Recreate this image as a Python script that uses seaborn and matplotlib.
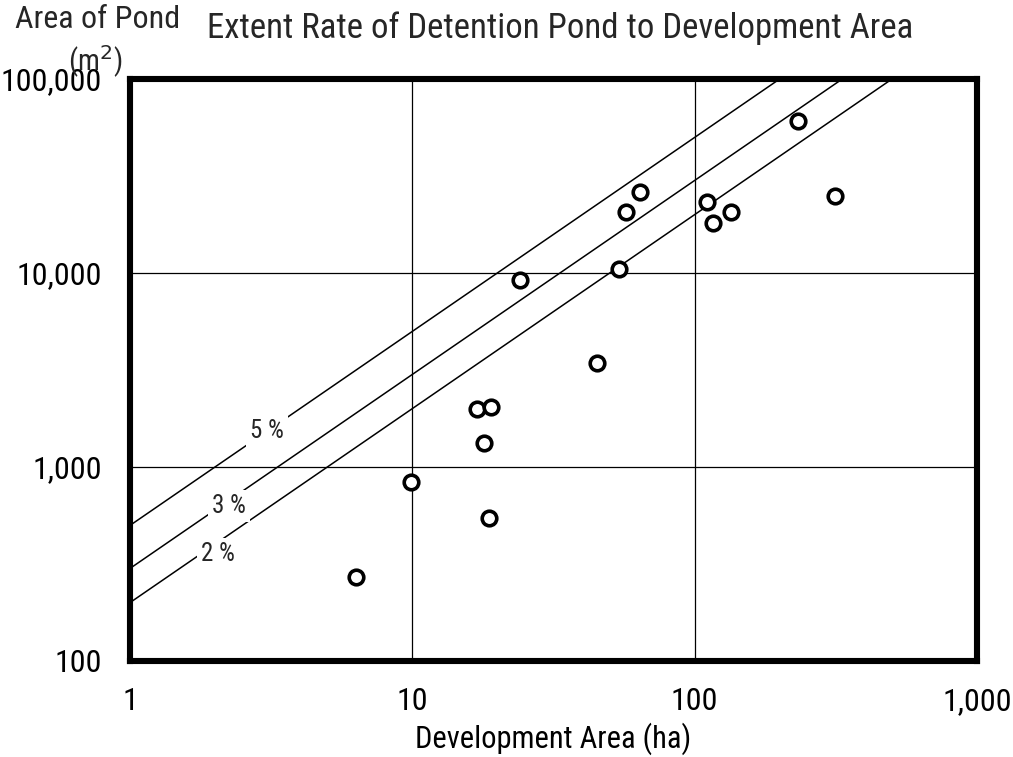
import matplotlib
matplotlib.use("Agg")
import matplotlib.pyplot as plt
import seaborn as sns
import pandas as pd
import numpy as np

# ---- data ----
dev_area_ha = [6.3, 9.9, 18.7, 17.9, 17.0, 19.0, 45.1, 24.0, 54.0, 57.0, 64.1,
               110.5, 115.8, 134.8, 233, 314]
pond_area_m2 = [271, 840, 543, 1335, 1997, 2034, 3442, 9150, 10520, 20660, 26180,
                23350, 18070, 20590, 60700, 25060]
rates_pct = [5, 3, 2]
rate_labels = ["5 %", "3 %", "2 %"]
label_x = [3.05, 2.24, 2.05]
label_y = [1525, 628, 356]
line_x = [1, 1000]
x_ticks = [1, 10, 100, 1000]
x_ticklabels = ["1", "10", "100", "1,000"]
y_ticks = [100, 1000, 10000, 100000]
y_ticklabels = ["100", "1,000", "10,000", "100,000"]

FONT = ["Liberation Sans Narrow", "Roboto Condensed", "DejaVu Sans Condensed", "Liberation Sans", "DejaVu Sans"]

sns.set_theme(style="white")
plt.rcParams["font.family"] = FONT

W, H = 1013, 757
fig = plt.figure(figsize=(W / 100, H / 100), dpi=100)
L, R, T, B = 130, 977, 79, 661
ax = fig.add_axes([L / W, 1 - B / H, (R - L) / W, (B - T) / H])

df = pd.DataFrame({"area": dev_area_ha, "pond": pond_area_m2})

rows = []
for r in rates_pct:
    for xv in line_x:
        rows.append({"x": xv, "y": r / 100 * 10000 * xv, "rate": r})
lines_df = pd.DataFrame(rows)
sns.lineplot(data=lines_df, x="x", y="y", units="rate", estimator=None,
             color="black", linewidth=1.1, ax=ax, zorder=2)

sns.scatterplot(data=df, x="area", y="pond", ax=ax, marker="o", s=110,
                facecolor="white", edgecolor="black", linewidth=2.6, zorder=5)

ax.set_xscale("log")
ax.set_yscale("log")
ax.set_xlim(1, 1000)
ax.set_ylim(100, 100000)

for lx, ly, lt in zip(label_x, label_y, rate_labels):
    ax.text(lx, ly, lt, ha="center", va="center", fontsize=18, zorder=4,
            family=FONT,
            bbox=dict(facecolor="white", edgecolor="none", pad=3))

for v in [10, 100]:
    ax.axvline(v, color="black", linewidth=0.9, zorder=1)
for v in [1000, 10000]:
    ax.axhline(v, color="black", linewidth=0.9, zorder=1)

ax.set_xticks(x_ticks)
ax.set_xticklabels(x_ticklabels)
ax.set_yticks(y_ticks)
ax.set_yticklabels(y_ticklabels)
ax.minorticks_off()
ax.tick_params(axis="both", length=0, labelsize=23, colors="black")
ax.tick_params(axis="x", pad=19)
ax.tick_params(axis="y", pad=20)

for s in ax.spines.values():
    s.set_visible(True)
    s.set_color("black")
    s.set_linewidth(4.4)

ax.set_xlabel("Development Area (ha)", fontsize=22, labelpad=4, color="black")
ax.set_ylabel("")

fig.text(15 / W, 1 - 20 / H, "Area of Pond", fontsize=23, ha="left", va="center")
fig.text(95 / W, 1 - 62 / H, "(m$^2$)", fontsize=21, ha="center", va="center")
fig.text(560 / W, 1 - 28 / H, "Extent Rate of Detention Pond to Development Area",
         fontsize=25, ha="center", va="center")

fig.savefig("out.png", dpi=100, facecolor="white")
